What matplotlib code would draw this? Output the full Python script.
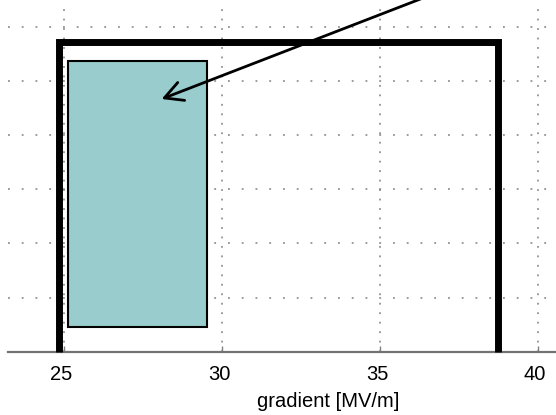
import matplotlib
matplotlib.use("Agg")
import matplotlib.pyplot as plt
import matplotlib.transforms as mtransforms
from matplotlib.patches import Rectangle

plt.rcParams['font.family'] = ['Liberation Sans', 'DejaVu Sans']

# gradient window (thick outline) and achieved range (filled box)
window_x = [24.83, 24.83, 38.73, 38.73]
window_y = [0.0, 5.72, 5.72, 0.0]
box_x = [25.13, 29.52]
box_y = [0.46, 5.37]
arrow_tip = (28.09, 4.67)
arrow_tail = (37.84, 6.87)

x_ticks = [25, 30, 35, 40]
y_grid = [0, 1, 2, 3, 4, 5, 6]

fig = plt.figure(figsize=(5.56, 4.15), dpi=100)
ax = fig.add_axes([0.0144, 0.1525, 1.151, 0.828])
ax.set_xlim(23.23, 43.48)
ax.set_ylim(0, 6.35)

# dotted grid, tighter spacing on the vertical lines
ax.set_xticks(x_ticks)
ax.set_yticks(y_grid)
ax.xaxis.grid(True, color='0.5', linewidth=1.1, linestyle=(0, (1.2, 5.0)))
ax.yaxis.grid(True, color='0.5', linewidth=1.1, linestyle=(0, (1.2, 7.8)))
ax.set_axisbelow(True)

for side in ['top', 'right', 'left']:
    ax.spines[side].set_visible(False)
ax.spines['bottom'].set_color('0.45')
ax.spines['bottom'].set_linewidth(1.6)

ax.tick_params(axis='x', direction='in', length=4, width=1, color='0.5',
               labelsize=14.5, pad=9.5)
ax.tick_params(axis='y', left=False, labelleft=False)
shift = mtransforms.ScaledTranslation(-3 / 100, 0, fig.dpi_scale_trans)
for lbl in ax.get_xticklabels():
    lbl.set_transform(lbl.get_transform() + shift)

ax.add_patch(Rectangle((box_x[0], box_y[0]), box_x[1] - box_x[0],
                       box_y[1] - box_y[0], facecolor='#99cccc',
                       edgecolor='black', linewidth=1.5, zorder=3))

ax.plot(window_x, window_y, color='black', linewidth=5,
        solid_joinstyle='miter', solid_capstyle='butt', clip_on=False, zorder=4)

ax.annotate('', xy=arrow_tip, xytext=arrow_tail, annotation_clip=False,
            arrowprops=dict(arrowstyle='->, head_length=1.3, head_width=0.69',
                            color='black', linewidth=2.0, mutation_scale=10,
                            shrinkA=0, shrinkB=0), zorder=5)

ax.set_xlabel('gradient [MV/m]', fontsize=14.5, labelpad=5.5)

fig.savefig('out.png', dpi=100)
